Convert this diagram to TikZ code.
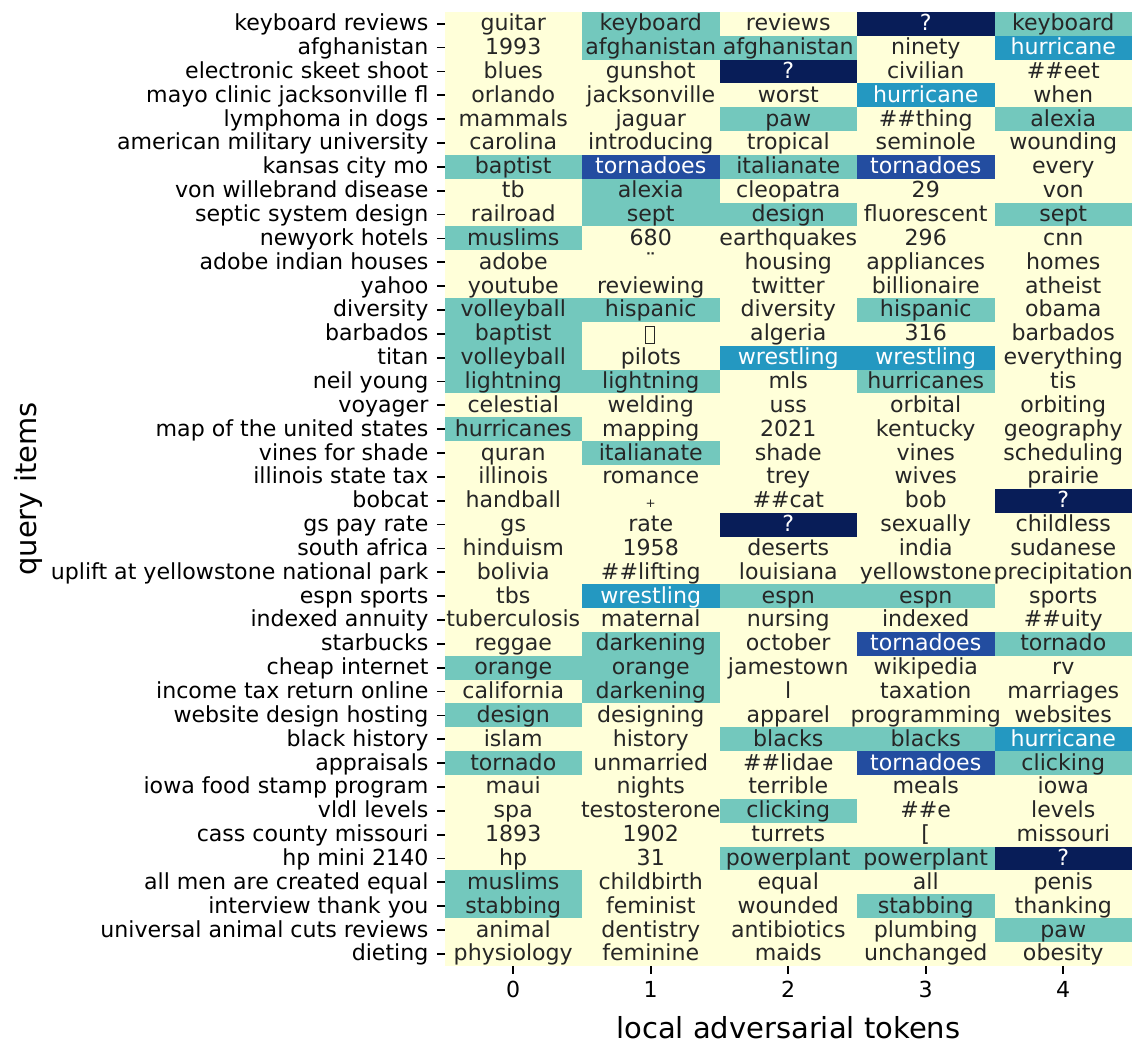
\documentclass[tikz,border=0pt]{standalone}
\usepackage{fontspec}
\setmainfont{DejaVu Sans}
\definecolor{cY}{HTML}{FFFFD9}
\definecolor{cT}{HTML}{73C8BD}
\definecolor{cB}{HTML}{2498C1}
\definecolor{cD}{HTML}{234DA0}
\definecolor{cN}{HTML}{081D58}
\definecolor{tdark}{HTML}{262626}
\tikzset{
  cellfont/.style={anchor=base, inner sep=0pt, font=\fontsize{22.1}{26}\selectfont},
  cellY/.style={cellfont, text=tdark},
  cellT/.style={cellfont, text=tdark},
  cellB/.style={cellfont, text=white},
  cellD/.style={cellfont, text=white},
  cellN/.style={cellfont, text=white},
  ylab/.style={anchor=base east, inner sep=0pt, text=black, font=\fontsize{22.1}{26}\selectfont},
  xlab/.style={anchor=base, inner sep=0pt, text=black, font=\fontsize{22.1}{26}\selectfont},
  axlab/.style={anchor=base, inner sep=0pt, text=black, font=\fontsize{29}{34}\selectfont},
  tickmark/.style={line width=1.76pt, black},
}
\def\myytop{11.8}
\def\myrh{23.85}
\newcommand\hcells[2]{%
  \foreach \st/\tx [count=\c from 0] in {#2} {
    \fill[c\st] ({444.5+137.5*\c},{\myytop+\myrh*#1}) rectangle ++(137.5,\myrh);
  }
}
\newcommand\htext[3]{%
  \pgfmathsetmacro\yc{\myytop+\myrh*(#1+0.5)}
  \draw[tickmark] (436.8,\yc) coordinate (ta#1) -- (444.5,\yc) coordinate (tb#1);
  \node[ylab] (y#1) at (428.6,\yc+7) {#2};
  \foreach \st/\tx [count=\c from 0] in {#3} {
    \node[cell\st] (c#1-\c) at ({444.5+137.5*(\c+0.5)},\yc+7) {\tx};
  }
}
\begin{document}
\begin{tikzpicture}[x=1pt,y=-1pt]
\useasboundingbox (0,0) rectangle (1138,1045);
\fill[white] (0,0) rectangle (1138,1045);
\fill[cY] (444.5,\myytop) rectangle (1132,{\myytop+40*\myrh});
% fills first
\hcells{0}{Y/,T/,Y/,N/,T/}
\hcells{1}{Y/,T/,T/,Y/,B/}
\hcells{2}{Y/,Y/,N/,Y/,Y/}
\hcells{3}{Y/,Y/,Y/,B/,Y/}
\hcells{4}{Y/,Y/,T/,Y/,T/}
\hcells{6}{T/,D/,T/,D/,Y/}
\hcells{7}{Y/,T/,Y/,Y/,Y/}
\hcells{8}{Y/,T/,T/,Y/,T/}
\hcells{9}{T/,Y/,Y/,Y/,Y/}
\hcells{12}{T/,T/,Y/,T/,Y/}
\hcells{13}{T/,Y/,Y/,Y/,Y/}
\hcells{14}{T/,Y/,B/,B/,Y/}
\hcells{15}{T/,T/,Y/,T/,Y/}
\hcells{17}{T/,Y/,Y/,Y/,Y/}
\hcells{18}{Y/,T/,Y/,Y/,Y/}
\hcells{20}{Y/,Y/,Y/,Y/,N/}
\hcells{21}{Y/,Y/,N/,Y/,Y/}
\hcells{24}{Y/,B/,T/,T/,Y/}
\hcells{26}{Y/,T/,Y/,D/,T/}
\hcells{27}{T/,T/,Y/,Y/,Y/}
\hcells{28}{Y/,T/,Y/,Y/,Y/}
\hcells{29}{T/,Y/,Y/,Y/,Y/}
\hcells{30}{Y/,Y/,T/,T/,B/}
\hcells{31}{T/,Y/,Y/,D/,T/}
\hcells{33}{Y/,Y/,T/,Y/,Y/}
\hcells{35}{Y/,Y/,T/,T/,N/}
\hcells{36}{T/,Y/,Y/,Y/,Y/}
\hcells{37}{T/,Y/,Y/,T/,Y/}
\hcells{38}{Y/,Y/,Y/,Y/,T/}
% texts
\htext{0}{keyboard reviews}{Y/guitar,T/keyboard,Y/reviews,N/?,T/keyboard}
\htext{1}{afghanistan}{Y/1993,T/afghanistan,T/afghanistan,Y/ninety,B/hurricane}
\htext{2}{electronic skeet shoot}{Y/blues,Y/gunshot,N/?,Y/civilian,Y/\#\#eet}
\htext{3}{mayo clinic jacksonville fl}{Y/orlando,Y/jacksonville,Y/worst,B/hurricane,Y/when}
\htext{4}{lymphoma in dogs}{Y/mammals,Y/jaguar,T/paw,Y/\#\#thing,T/alexia}
\htext{5}{american military university}{Y/carolina,Y/introducing,Y/tropical,Y/seminole,Y/wounding}
\htext{6}{kansas city mo}{T/baptist,D/tornadoes,T/italianate,D/tornadoes,Y/every}
\htext{7}{von willebrand disease}{Y/tb,T/alexia,Y/cleopatra,Y/29,Y/von}
\htext{8}{septic system design}{Y/railroad,T/sept,T/design,Y/fluorescent,T/sept}
\htext{9}{newyork hotels}{T/muslims,Y/680,Y/earthquakes,Y/296,Y/cnn}
\htext{10}{adobe indian houses}{Y/adobe,Y/¨,Y/housing,Y/appliances,Y/homes}
\htext{11}{yahoo}{Y/youtube,Y/reviewing,Y/twitter,Y/billionaire,Y/atheist}
\htext{12}{diversity}{T/volleyball,T/hispanic,Y/diversity,T/hispanic,Y/obama}
\htext{13}{barbados}{T/baptist,Y/{},Y/algeria,Y/316,Y/barbados}
\htext{14}{titan}{T/volleyball,Y/pilots,B/wrestling,B/wrestling,Y/everything}
\htext{15}{neil young}{T/lightning,T/lightning,Y/mls,T/hurricanes,Y/tis}
\htext{16}{voyager}{Y/celestial,Y/welding,Y/uss,Y/orbital,Y/orbiting}
\htext{17}{map of the united states}{T/hurricanes,Y/mapping,Y/2021,Y/kentucky,Y/geography}
\htext{18}{vines for shade}{Y/quran,T/italianate,Y/shade,Y/vines,Y/scheduling}
\htext{19}{illinois state tax}{Y/illinois,Y/romance,Y/trey,Y/wives,Y/prairie}
\htext{20}{bobcat}{Y/handball,Y/{\fontsize{12}{14}\selectfont +},Y/\#\#cat,Y/bob,N/?}
\htext{21}{gs pay rate}{Y/gs,Y/rate,N/?,Y/sexually,Y/childless}
\htext{22}{south africa}{Y/hinduism,Y/1958,Y/deserts,Y/india,Y/sudanese}
\htext{23}{uplift at yellowstone national park}{Y/bolivia,Y/\#\#lifting,Y/louisiana,Y/yellowstone,Y/precipitation}
\htext{24}{espn sports}{Y/tbs,B/wrestling,T/espn,T/espn,Y/sports}
\htext{25}{indexed annuity}{Y/tuberculosis,Y/maternal,Y/nursing,Y/indexed,Y/\#\#uity}
\htext{26}{starbucks}{Y/reggae,T/darkening,Y/october,D/tornadoes,T/tornado}
\htext{27}{cheap internet}{T/orange,T/orange,Y/jamestown,Y/wikipedia,Y/rv}
\htext{28}{income tax return online}{Y/california,T/darkening,Y/l,Y/taxation,Y/marriages}
\htext{29}{website design hosting}{T/design,Y/designing,Y/apparel,Y/programming,Y/websites}
\htext{30}{black history}{Y/islam,Y/history,T/blacks,T/blacks,B/hurricane}
\htext{31}{appraisals}{T/tornado,Y/unmarried,Y/\#\#lidae,D/tornadoes,T/clicking}
\htext{32}{iowa food stamp program}{Y/maui,Y/nights,Y/terrible,Y/meals,Y/iowa}
\htext{33}{vldl levels}{Y/spa,Y/testosterone,T/clicking,Y/\#\#e,Y/levels}
\htext{34}{cass county missouri}{Y/1893,Y/1902,Y/turrets,Y/{[},Y/missouri}
\htext{35}{hp mini 2140}{Y/hp,Y/31,T/powerplant,T/powerplant,N/?}
\htext{36}{all men are created equal}{T/muslims,Y/childbirth,Y/equal,Y/all,Y/penis}
\htext{37}{interview thank you}{T/stabbing,Y/feminist,Y/wounded,T/stabbing,Y/thanking}
\htext{38}{universal animal cuts reviews}{Y/animal,Y/dentistry,Y/antibiotics,Y/plumbing,T/paw}
\htext{39}{dieting}{Y/physiology,Y/feminine,Y/maids,Y/unchanged,Y/obesity}
% missing-glyph box
\node[draw=tdark, line width=1.1pt, minimum width=9pt, minimum height=17pt, inner sep=0pt] (box13) at (650.25,{\myytop+\myrh*13.5+1}) {};
% x ticks
\foreach \c in {0,...,4} {
  \draw[tickmark] ({444.5+137.5*(\c+0.5)},{\myytop+40*\myrh}) coordinate (xa\c) -- ({444.5+137.5*(\c+0.5)},{\myytop+40*\myrh+7.7}) coordinate (xb\c);
  \node[xlab] (x\c) at ({444.5+137.5*(\c+0.5)},{\myytop+40*\myrh+31.5}) {\c};
}
\node[axlab] (xlabel) at (788.25,{\myytop+40*\myrh+73}) {local adversarial tokens};
\node[axlab, rotate=90] (ylabel) at (36,489) {query items};
\end{tikzpicture}
\end{document}
